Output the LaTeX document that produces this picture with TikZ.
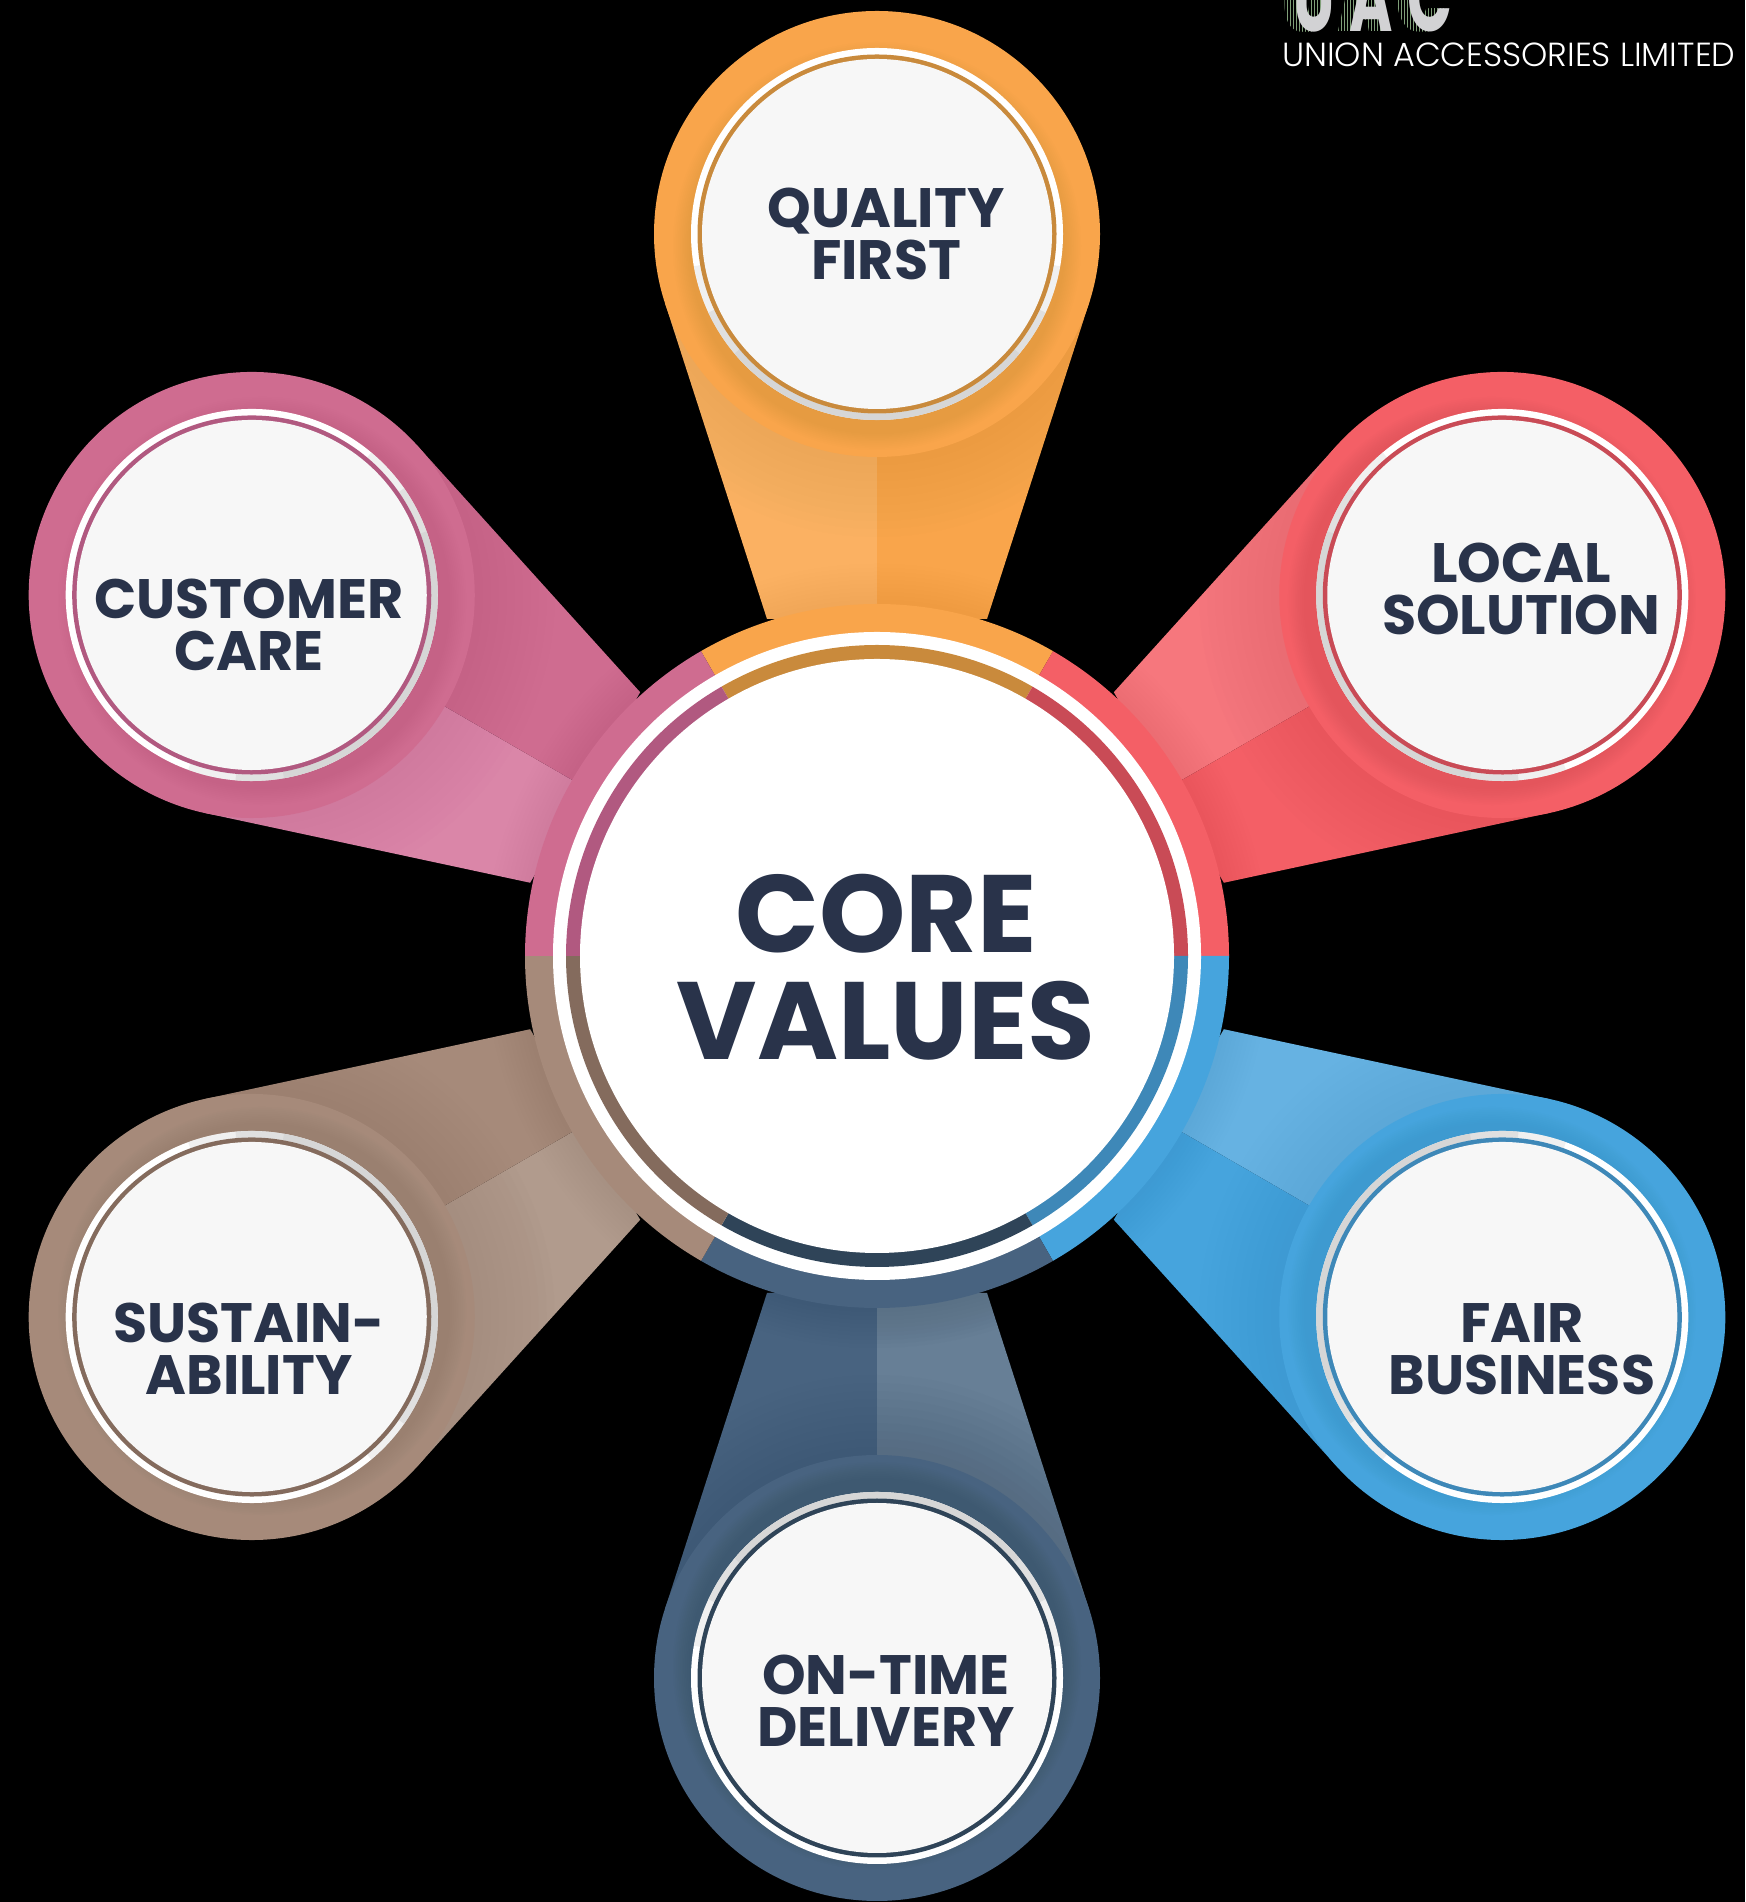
\documentclass[tikz,border=0pt]{standalone}
\usepackage{fontspec}
\setmainfont{Poppins}
\newfontfamily\lightfont{Poppins Light}
\usetikzlibrary{calc}
\definecolor{ink}{HTML}{29334A}
\definecolor{oBase}{HTML}{F9A54B}\definecolor{oLight}{HTML}{FBB162}\definecolor{oIn}{HTML}{C98A3C}
\definecolor{rBase}{HTML}{F45F66}\definecolor{rLight}{HTML}{F6777D}\definecolor{rIn}{HTML}{C94B56}
\definecolor{bBase}{HTML}{46A4DD}\definecolor{bLight}{HTML}{66B2E2}\definecolor{bIn}{HTML}{3E88B8}
\definecolor{nBase}{HTML}{486380}\definecolor{nLight}{HTML}{677F96}\definecolor{nIn}{HTML}{2F4458}
\definecolor{tBase}{HTML}{A68A7A}\definecolor{tLight}{HTML}{B19B8D}\definecolor{tIn}{HTML}{846B5D}
\definecolor{pBase}{HTML}{CF6C90}\definecolor{pLight}{HTML}{DA86A8}\definecolor{pIn}{HTML}{B15980}
\definecolor{logoGreen}{HTML}{7F9F78}
\definecolor{logoGray}{HTML}{D2D2D4}
\tikzset{
  small label/.style={align=center,text=ink,font=\fontsize{55.5}{52}\selectfont\bfseries,inner sep=0pt},
  big label/.style={align=center,text=ink,font=\fontsize{110}{107}\selectfont\bfseries,inner sep=0pt},
  logo letters/.style={anchor=base west,inner sep=0pt,xscale=.62,transform shape,font=\fontsize{95}{95}\selectfont\bfseries\addfontfeature{LetterSpace=25}},
}
\begin{document}
\begin{tikzpicture}[x=1pt,y=1pt]
\fill[black] (0,0) rectangle (1745,1902);
\useasboundingbox (0,0) rectangle (1745,1902);
% petals
\foreach \rot/\cb/\cl/\ci in {0/o,-60/r,-120/b,180/n,120/t,60/p}{
 \begin{scope}[shift={(877,946)},rotate=\rot]
  \begin{scope}
   \clip (-110,337) -- (-212,653) -- (212,653) -- (110,337) -- cycle
         (-212,653) rectangle (212,780);
   \fill[\cb Light] (-240,300) rectangle (0,800);
   \fill[\cb Base] (0,300) rectangle (240,800);
   \foreach \k in {10,9,...,1}{
     \fill[\cb In,opacity=.025] (0,722) circle ({223+\k*8});
     \fill[\cb In,opacity=.02] (0,0) circle ({352+\k*4});
   }
  \end{scope}
  \fill[\cb Base] (0,722) circle (223);
  \begin{scope}
   \clip (0,722) circle (223);
   \foreach \k in {10,9,...,1}{
     \fill[\cb In,opacity=.03] (0,710) circle ({186+\k*1.8});
   }
  \end{scope}
  \fill[white] (0,722) circle (186);
  \foreach \sp/\op in {80/.35,65/.6,50/1}{
    \fill[black!16,opacity=\op] (0,722) ++({-90-\sp}:186) arc ({-90-\sp}:{-90+\sp}:186)
       -- ++({-90+\sp}:-6.5) arc ({-90+\sp}:{-90-\sp}:179.5) -- cycle;
  }
  \fill[\cb In] (0,722) circle (179.5);
  \fill[black!3] (0,722) circle (175);
 \end{scope}
}
% hub ring sectors
\foreach \st/\cb in {60/o,0/r,-60/b,-120/n,-180/t,120/p}{
 \fill[\cb Base,shift={(877,946)}] (0,0) -- (\st:352) arc (\st:{\st+60}:352) -- cycle;
}
\fill[white] (877,946) circle (324);
\foreach \st/\cb in {60/o,0/r,-60/b,-120/n,-180/t,120/p}{
 \fill[\cb In,shift={(877,946)}] (0,0) -- (\st:311) arc (\st:{\st+60}:311) -- cycle;
}
\fill[white] (877,946) circle (297);
% labels
\node[small label] (quality) at (886,1902-234) {QUALITY\\FIRST};
\node[small label] (local) at (1521,1902-589) {LOCAL\\SOLUTION};
\node[small label] (customer) at (249,1902-625) {CUSTOMER\\CARE};
\node[small label] (sustain) at (249,1902-1349) {SUSTAIN-\\ABILITY};
\node[small label] (ontime) at (886,1902-1701) {ON-TIME\\DELIVERY};
\node[small label] (fair) at (1522,1902-1349) {FAIR\\BUSINESS};
\node[big label] (core) at (886,1902-967) {CORE\\VALUES};
% logo
\begin{scope}
 \clip (1270,1870) rectangle (1458,1902);
 \foreach \d in {3,6,9,12}{
  \node[logo letters,text=logoGreen] at ({1293-\d},1870) {UAC};
 }
 \foreach \x in {1280,1283,...,1460}{\draw[black,line width=1.2pt] (\x,1868) -- (\x,1902);}
 \node[logo letters,text=logoGray] (logotop) at (1293,1870) {UAC};
\end{scope}
\node[anchor=base west,inner sep=0pt,text=white,font=\fontsize{33.4}{33}\selectfont\lightfont] (union) at (1282,1902-67) {UNION ACCESSORIES LIMITED};
\end{tikzpicture}
\end{document}
